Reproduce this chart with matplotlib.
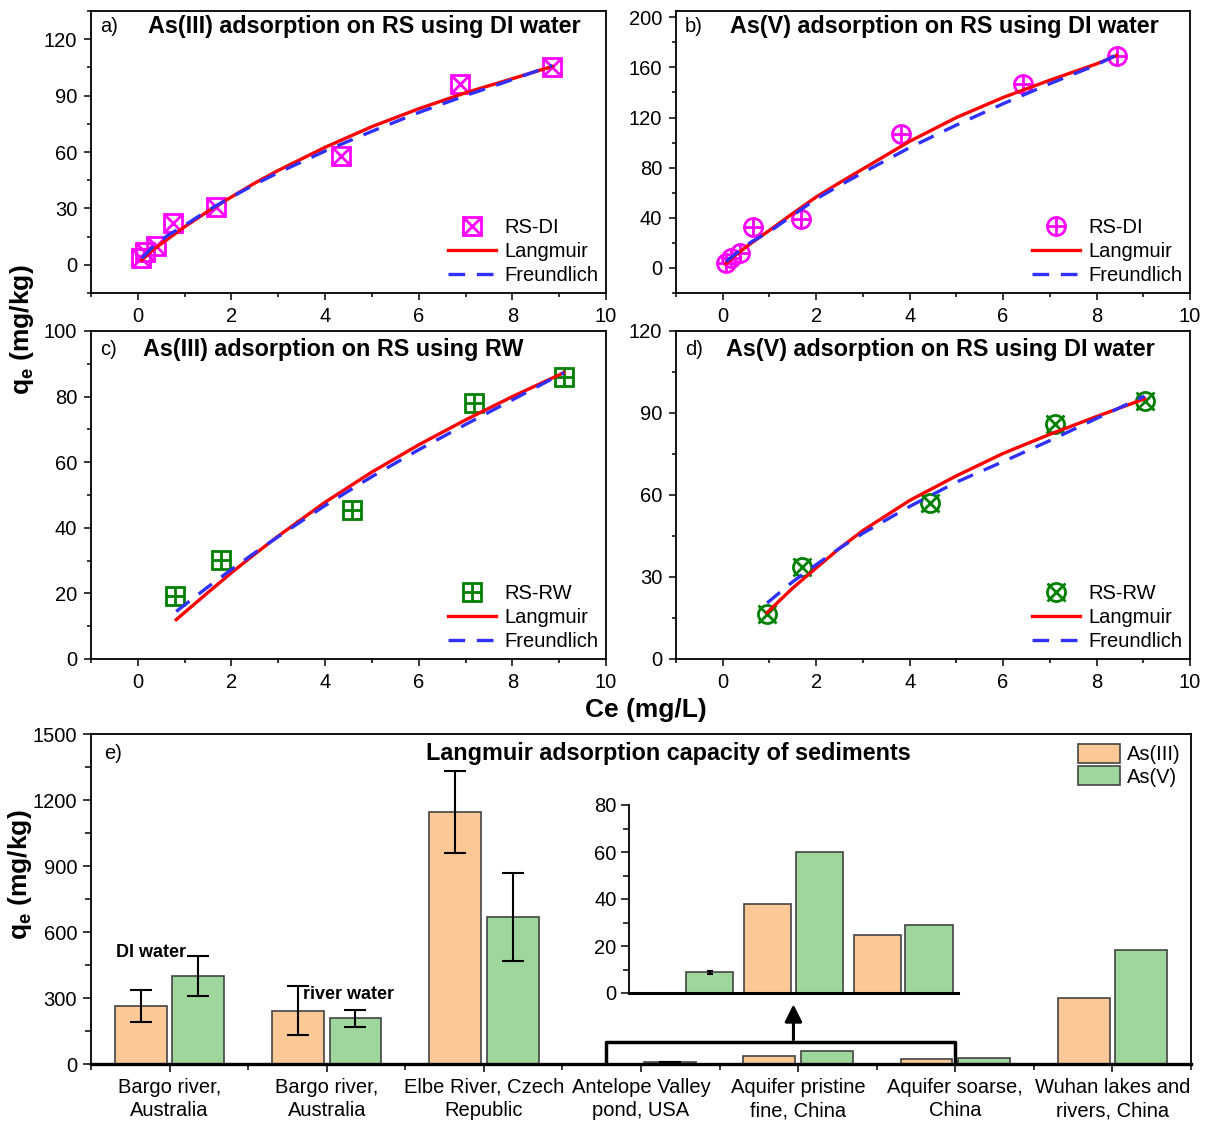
import numpy as np
import matplotlib
matplotlib.use("Agg")
import matplotlib.pyplot as plt
from matplotlib.ticker import MultipleLocator
from matplotlib.legend_handler import HandlerTuple

plt.rcParams['font.family'] = ['Liberation Sans', 'DejaVu Sans']
plt.rcParams['mathtext.fontset'] = 'custom'
plt.rcParams['mathtext.rm'] = 'Liberation Sans'
plt.rcParams['mathtext.bf'] = 'Liberation Sans:bold'

# ---- isotherm data (a-d) ----
a_ce = [0.07, 0.16, 0.38, 0.75, 1.66, 4.34, 6.89, 8.85]
a_qe = [3.5, 7.0, 10.2, 22.0, 30.7, 58.0, 96.4, 105.4]
a_fit_ce = [0.085, 0.3, 0.6, 1, 1.5, 2, 2.5, 3, 4, 5, 6, 7, 8, 8.85]
a_lang = [2.5, 7.5, 13.0, 20.2, 28.5, 36.1, 43.5, 50.2, 62.5, 73.5, 83.0, 91.5, 99.0, 105.5]
a_freu = [3.5, 9.0, 15.0, 21.0, 29.0, 36.0, 42.8, 49.0, 60.5, 71.0, 81.0, 90.0, 98.5, 106.0]

b_ce = [0.07, 0.18, 0.375, 0.64, 1.68, 3.82, 6.43, 8.43]
b_qe = [4.2, 8.2, 12.0, 32.7, 39.0, 106.5, 146.9, 168.7]
b_fit_ce = [0.07, 0.3, 0.6, 1, 1.5, 2, 2.5, 3, 4, 5, 6, 7, 8, 8.43]
b_lang = [3.5, 11.0, 19.5, 30.0, 43.5, 56.6, 68.0, 79.0, 101.0, 120.0, 136.0, 149.8, 162.8, 169.5]
b_freu = [5.0, 12.0, 20.5, 29.0, 42.0, 55.0, 65.8, 76.0, 96.0, 114.0, 131.0, 147.0, 162.0, 170.0]

c_ce = [0.80, 1.77, 4.57, 7.19, 9.11]
c_qe = [19.3, 30.1, 45.5, 78.0, 86.1]
c_fit_ce = [0.82, 1.5, 2, 2.5, 3, 4, 5, 6, 7, 8, 9.1]
c_lang = [12.0, 20.3, 26.3, 32.0, 37.5, 47.8, 57.0, 65.3, 72.9, 80.0, 87.3]
c_freu = [14.5, 22.0, 27.3, 32.4, 37.3, 46.8, 55.6, 63.8, 71.5, 79.0, 87.3]

d_ce = [0.95, 1.70, 4.43, 7.11, 9.04]
d_qe = [16.6, 33.6, 57.0, 86.0, 94.4]
d_fit_ce = [0.95, 1.5, 2, 2.5, 3, 4, 5, 6, 7, 8, 9.03]
d_lang = [17.0, 26.0, 33.3, 40.5, 47.0, 58.0, 67.0, 75.2, 82.2, 88.7, 95.2]
d_freu = [20.5, 28.3, 34.5, 40.5, 46.0, 55.8, 64.7, 72.2, 79.9, 88.0, 96.2]

# ---- Langmuir capacity bars (e) ----
sites = ["Bargo river,\nAustralia", "Bargo river,\nAustralia",
         "Elbe River, Czech\nRepublic", "Antelope Valley\npond, USA",
         "Aquifer pristine\nfine, China", "Aquifer soarse,\nChina",
         "Wuhan lakes and\nrivers, China"]
as3 = [262, 243, 1145, 0, 38, 24.5, 302]
as3_err = [73, 110, 187, 0, 0, 0, 0]
as5 = [398, 207, 667, 8.8, 60, 28.8, 519]
as5_err = [91, 37, 199, 0.6, 0, 0, 0]

W, H = 1214, 1122
fig = plt.figure(figsize=(W / 100, H / 100), dpi=100)


def rect(l, t, r, b):
    return [l / W, 1 - b / H, (r - l) / W, (b - t) / H]


MAG = '#ff00ff'
GRN = '#008000'
RED = '#ff0000'
BLU = '#3030ff'
FS = 14.5
TFS = 16.8


def style(ax, ymaj, ymin):
    ax.set_xlim(-1, 10)
    ax.xaxis.set_major_locator(MultipleLocator(2))
    ax.xaxis.set_minor_locator(MultipleLocator(1))
    ax.yaxis.set_major_locator(MultipleLocator(ymaj))
    ax.yaxis.set_minor_locator(MultipleLocator(ymin))
    ax.tick_params(which='major', direction='out', length=5, width=1.1,
                   labelsize=FS, pad=5)
    ax.tick_params(which='minor', direction='out', length=3, width=1.1)
    for s in ax.spines.values():
        s.set_linewidth(1.3)


panels = [
    (rect(91, 11, 606, 293), a_ce, a_qe, a_fit_ce, a_lang, a_freu, MAG, 's', 'x',
     'RS-DI', (-15, 135), 30, 15, 'a)', 'As(III) adsorption on RS using DI water', 0.53),
    (rect(676, 11, 1190, 293), b_ce, b_qe, b_fit_ce, b_lang, b_freu, MAG, 'o', '+',
     'RS-DI', (-20, 205), 40, 20, 'b)', 'As(V) adsorption on RS using DI water', 0.523),
    (rect(91, 331, 606, 659), c_ce, c_qe, c_fit_ce, c_lang, c_freu, GRN, 's', '+',
     'RS-RW', (0, 100), 20, 10, 'c)', 'As(III) adsorption on RS using RW', 0.47),
    (rect(676, 331, 1190, 659), d_ce, d_qe, d_fit_ce, d_lang, d_freu, GRN, 'o', 'x',
     'RS-RW', (0, 120), 30, 15, 'd)', 'As(V) adsorption on RS using DI water', 0.515),
]

for (r, ce, qe, fce, lang, freu, col, m1, m2, lab, ylim, ymaj, ymin,
     tag, title, tx) in panels:
    ax = fig.add_axes(r)
    style(ax, ymaj, ymin)
    ax.set_ylim(*ylim)
    h1, = ax.plot(ce, qe, ls='none', marker=m1, ms=13, mfc='none', mec=col,
                  mew=2.0, zorder=3)
    h2, = ax.plot(ce, qe, ls='none', marker=m2, ms=13, mec=col, mew=2.0, zorder=3)
    hl, = ax.plot(fce, lang, color=RED, lw=2.4, zorder=4)
    hf, = ax.plot(fce, freu, color=BLU, lw=2.4, dashes=(5, 3.5), zorder=4)
    ax.text(0.017, 0.945, tag, transform=ax.transAxes, fontsize=FS,
            ha='left', va='center')
    ax.text(tx, 0.945, title, transform=ax.transAxes, fontsize=TFS,
            fontweight='bold', ha='center', va='center')
    ax.legend([(h1, h2), hl, hf], [lab, 'Langmuir', 'Freundlich'],
              handler_map={tuple: HandlerTuple(ndivide=1)},
              loc='lower right', frameon=False, fontsize=FS, handlelength=2.4,
              handletextpad=0.4, labelspacing=0.25, borderaxespad=0.2,
              borderpad=0.2)

fig.text(22 / W, 1 - 330 / H, r'$\mathbf{q_e}$ (mg/kg)', rotation=90, fontsize=19,
         fontweight='bold', ha='center', va='center')
fig.text(646 / W, 1 - 710 / H, 'Ce (mg/L)', fontsize=19, fontweight='bold',
         ha='center', va='center')

# ---- panel e ----
ORG = '#fbc896'
LGR = '#9ed69b'
EDG = '#444444'
bw = 0.33
off = 0.183
x = np.arange(len(sites))
axe = fig.add_axes(rect(91, 734, 1191, 1064))
axe.bar(x - off, as3, bw, color=ORG, edgecolor=EDG, lw=1.2, label='As(III)', zorder=2)
axe.bar(x + off, as5, bw, color=LGR, edgecolor=EDG, lw=1.2, label='As(V)', zorder=2)
e3 = [i for i in range(len(sites)) if as3_err[i] > 0]
e5 = [i for i in range(len(sites)) if as5_err[i] > 0]
axe.errorbar(x[e3] - off, np.array(as3)[e3], yerr=np.array(as3_err)[e3], fmt='none',
             ecolor='k', elinewidth=1.5, capsize=8, capthick=1.5, zorder=3)
axe.errorbar(x[e5] + off, np.array(as5)[e5], yerr=np.array(as5_err)[e5], fmt='none',
             ecolor='k', elinewidth=1.5, capsize=8, capthick=1.5, zorder=3)
axe.set_xlim(-0.5, 6.5)
axe.set_ylim(0, 1500)
axe.set_xticks(x)
axe.set_xticklabels(sites, fontsize=FS, linespacing=1.3)
axe.xaxis.set_minor_locator(MultipleLocator(1, offset=0.5))
axe.yaxis.set_major_locator(MultipleLocator(300))
axe.yaxis.set_minor_locator(MultipleLocator(150))
axe.tick_params(which='major', direction='out', length=6, width=1.1,
                labelsize=FS, pad=4)
axe.tick_params(which='minor', direction='out', length=4, width=1.1)
for s in axe.spines.values():
    s.set_linewidth(1.3)
axe.spines['bottom'].set_linewidth(2.4)
fig.text(20 / W, 1 - 875 / H, r'$\mathbf{q_e}$ (mg/kg)', rotation=90, fontsize=19,
         fontweight='bold', ha='center', va='center')
axe.text(0.012, 0.94, 'e)', transform=axe.transAxes, fontsize=FS, ha='left', va='center')
axe.text(0.525, 0.94, 'Langmuir adsorption capacity of sediments',
         transform=axe.transAxes, fontsize=TFS, fontweight='bold',
         ha='center', va='center')
axe.text(-0.12, 507, 'DI water', fontsize=13, fontweight='bold', ha='center', va='center')
axe.text(0.85, 317, 'river water', fontsize=13, fontweight='bold', ha='left', va='center')
axe.legend(loc='upper right', fontsize=FS, frameon=False, handlelength=2.1,
           handleheight=1.05, handletextpad=0.35, labelspacing=0.1,
           borderaxespad=0.3, borderpad=0.2)

# bracket + arrow toward the zoomed inset
axe.plot([2.78, 2.78, 5.0, 5.0], [0, 100, 100, 0], color='k', lw=2.5, zorder=4)
axe.annotate('', xy=(3.97, 284), xytext=(3.97, 98),
             arrowprops=dict(arrowstyle='-|>', color='k', lw=2.2, mutation_scale=26))

# inset
axi = fig.add_axes(rect(629, 805, 958, 993))
xi = np.arange(3)
axi.bar(xi - 0.236, as3[3:6], 0.43, color=ORG, edgecolor=EDG, lw=1.2, zorder=2)
axi.bar(xi + 0.236, as5[3:6], 0.43, color=LGR, edgecolor=EDG, lw=1.2, zorder=2)
axi.errorbar(xi[0] + 0.236, as5[3], yerr=as5_err[3], fmt='none', ecolor='k',
             elinewidth=1.5, capsize=2.5, capthick=1.5, zorder=3)
axi.set_xlim(-0.5, 2.5)
axi.set_ylim(0, 80)
axi.set_xticks([])
axi.yaxis.set_major_locator(MultipleLocator(20))
axi.yaxis.set_minor_locator(MultipleLocator(10))
axi.tick_params(which='major', direction='out', length=6, width=1.1, labelsize=FS, pad=3)
axi.tick_params(which='minor', direction='out', length=4, width=1.1)
axi.spines['top'].set_visible(False)
axi.spines['right'].set_visible(False)
axi.spines['left'].set_linewidth(1.3)
axi.spines['bottom'].set_linewidth(2.2)
axi.patch.set_alpha(0)

fig.savefig('out.png', dpi=100)
